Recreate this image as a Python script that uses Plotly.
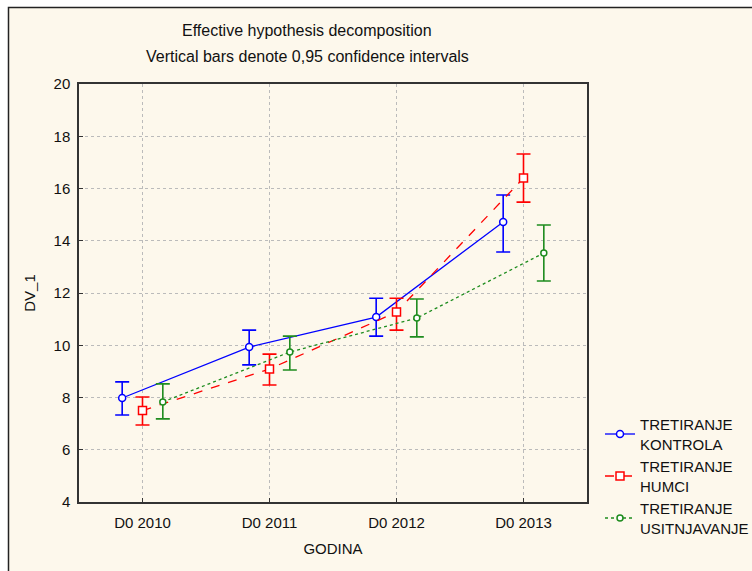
import plotly.graph_objects as go

# data
godina = ["D0 2010", "D0 2011", "D0 2012", "D0 2013"]

kontrola = [7.98, 9.93, 11.08, 14.72]
kontrola_hi = [8.60, 10.58, 11.80, 15.75]
kontrola_lo = [7.33, 9.25, 10.35, 13.57]

humci = [7.50, 9.09, 11.27, 16.40]
humci_hi = [8.02, 9.66, 11.80, 17.32]
humci_lo = [6.95, 8.48, 10.58, 15.48]

usitnjavanje = [7.83, 9.74, 11.04, 13.53]
usitnjavanje_hi = [8.52, 10.35, 11.77, 14.60]
usitnjavanje_lo = [7.18, 9.05, 10.32, 12.46]

series = [
    ("TRETIRANJE<br>KONTROLA", kontrola, kontrola_hi, kontrola_lo, "#0000ff", "solid", "circle", 7),
    ("TRETIRANJE<br>HUMCI", humci, humci_hi, humci_lo, "#ff0000", "dash", "square", 8),
    ("TRETIRANJE<br>USITNJAVANJE", usitnjavanje, usitnjavanje_hi, usitnjavanje_lo, "#1e8c1e", "dot", "circle", 6),
]
dodge = [-0.16, 0.0, 0.16]

# plot box in page pixels
L, T, R, B = 79, 84, 587, 502
W, H = R - L, B - T


def px_x(p):
    return (p - L) / W


def px_y(p):
    return (B - p) / H


fig = go.Figure()
for k, (name, vals, hi, lo, col, dash, sym, sz) in enumerate(series):
    xs = [i + dodge[k] for i in range(len(godina))]
    fig.add_trace(go.Scatter(
        x=xs, y=vals, name=name, mode="lines+markers",
        line=dict(color=col, width=1.3, dash=dash),
        marker=dict(symbol=sym, size=sz, color="white", line=dict(color=col, width=1.5)),
        error_y=dict(type="data", symmetric=False,
                     array=[h - v for h, v in zip(hi, vals)],
                     arrayminus=[v - l for v, l in zip(vals, lo)],
                     color=col, thickness=1.6, width=7),
    ))

font = "Liberation Sans, Arial, sans-serif"
fig.update_layout(
    width=752, height=571,
    margin=dict(l=L, r=752 - R, t=T, b=571 - B, autoexpand=False),
    paper_bgcolor="white", plot_bgcolor="white",
    font=dict(family=font, size=15, color="#111"),
    showlegend=True,
    legend=dict(x=px_x(600), y=px_y(408), xanchor="left", yanchor="top",
                bgcolor="rgba(0,0,0,0)", font=dict(size=15, color="#111"),
                tracegroupgap=0, itemwidth=30),
    annotations=[
        dict(text="Effective hypothesis decomposition", xref="paper", yref="paper",
             x=px_x(307), y=px_y(31), xanchor="center", yanchor="middle",
             showarrow=False, font=dict(size=16)),
        dict(text="Vertical bars denote 0,95 confidence intervals", xref="paper", yref="paper",
             x=px_x(307), y=px_y(57), xanchor="center", yanchor="middle",
             showarrow=False, font=dict(size=16)),
    ],
    shapes=[
        # cream panel with dark frame behind the whole chart
        dict(type="rect", xref="paper", yref="paper",
             x0=px_x(8.5), y0=-0.5, x1=2.0, y1=px_y(7.5),
             fillcolor="#fdf8ec", line=dict(color="#222", width=1.5), layer="below"),
    ],
)
fig.update_xaxes(
    range=[-0.5, 3.5], tickvals=[0, 1, 2, 3], ticktext=godina,
    showgrid=True, gridcolor="#bbbbbb", griddash="dot", gridwidth=1,
    showline=True, linecolor="#333", linewidth=1.5, mirror=True,
    ticks="inside", ticklen=4, tickcolor="#333", zeroline=False,
    ticklabelstandoff=6, automargin=False,
    title=dict(text="GODINA", standoff=14, font=dict(size=15)),
)
fig.update_yaxes(
    range=[4, 20], dtick=2,
    showgrid=True, gridcolor="#bbbbbb", griddash="dot", gridwidth=1,
    showline=True, linecolor="#333", linewidth=1.5, mirror=True,
    ticks="inside", ticklen=4, tickcolor="#333", zeroline=False,
    ticklabelstandoff=4, automargin=False,
    title=dict(text="DV_1", standoff=14, font=dict(size=15)),
)

fig.write_html("out.html", config={"displayModeBar": False},
               post_script="document.body.style.margin = '0';")
